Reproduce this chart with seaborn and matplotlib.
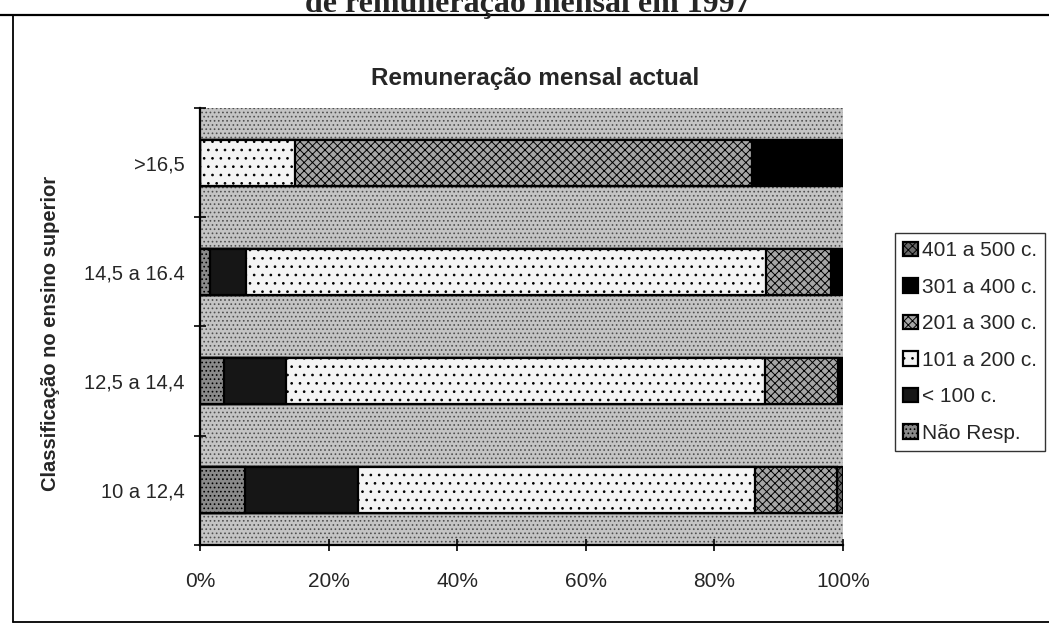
import numpy as np
import matplotlib
matplotlib.use("Agg")
import matplotlib.pyplot as plt
import seaborn as sns
from matplotlib.lines import Line2D
from matplotlib.patches import Rectangle

# =========================
# DATA (percent of respondents)
# =========================
categories = ["10 a 12,4", "12,5 a 14,4", "14,5 a 16.4", ">16,5"]
order = [">16,5", "14,5 a 16.4", "12,5 a 14,4", "10 a 12,4"]

series_names = ["Não Resp.", "< 100 c.", "101 a 200 c.", "201 a 300 c.",
                "301 a 400 c.", "401 a 500 c."]
nao_resp = [7.0, 3.8, 1.5, 0.0]
menos_100 = [17.6, 9.6, 5.7, 0.0]
de_101_200 = [61.7, 74.5, 80.8, 14.8]
de_201_300 = [12.7, 11.3, 10.2, 71.0]
de_301_400 = [0.0, 0.8, 1.8, 14.2]
de_401_500 = [1.0, 0.0, 0.0, 0.0]

x_ticks = [0, 20, 40, 60, 80, 100]
x_labels = ["0%", "20%", "40%", "60%", "80%", "100%"]

# =========================
# STYLE
# =========================
sns.set_theme(style="white")
plt.rcParams["font.family"] = ["Liberation Sans", "DejaVu Sans"]
plt.rcParams["hatch.linewidth"] = 0.7

fills = {
    "Não Resp.": ("#8a8a8a", "...."),
    "< 100 c.": ("#161616", None),
    "101 a 200 c.": ("#f4f4f4", ".."),
    "201 a 300 c.": ("#a6a6a6", "xxxx"),
    "301 a 400 c.": ("#000000", None),
    "401 a 500 c.": ("#6a6a6a", "xxxx"),
}

values = np.array([nao_resp, menos_100, de_101_200, de_201_300, de_301_400, de_401_500])
cum = np.cumsum(values, axis=0)

fig = plt.figure(figsize=(10.49, 6.26), dpi=100)
ax = fig.add_axes([0.1907, 0.1294, 0.6129, 0.6981])

# stippled plot background
ax.add_patch(Rectangle((0, 0), 1, 1, transform=ax.transAxes, facecolor="#c4c4c4",
                       edgecolor="#505050", hatch="....", linewidth=0, zorder=0))

# stacked bars: draw cumulative totals from the outermost segment inwards
for i in reversed(range(len(series_names))):
    name = series_names[i]
    color, hatch = fills[name]
    sns.barplot(x=cum[i], y=categories, order=order, orient="h", color=color,
                saturation=1, width=0.42, edgecolor="black", linewidth=1.6,
                hatch=hatch, errorbar=None, label=name, ax=ax, zorder=2)

ax.set_xlim(0, 100)
ax.set_ylim(3.5, -0.5)
ax.set_xticks(x_ticks)
ax.set_xticklabels(x_labels, fontsize=15)
ax.set_yticks(range(len(order)))
ax.set_yticklabels(order, fontsize=14.5)
ax.set_yticks([-0.5, 0.5, 1.5, 2.5, 3.5], minor=True)
ax.tick_params(axis="y", which="major", length=0, pad=11)
ax.tick_params(axis="y", which="minor", length=9, width=1.2, direction="inout", color="black", left=True)
ax.tick_params(axis="x", length=9, width=1.2, direction="inout", color="black", pad=15, bottom=True)
ax.set_xlabel("")
ax.set_ylabel("Classificação no ensino superior", fontsize=14.5, fontweight="bold")
ax.yaxis.set_label_coords(-0.218, 0.485)

for side in ["top", "right"]:
    ax.spines[side].set_visible(False)
for side in ["left", "bottom"]:
    ax.spines[side].set_color("black")
    ax.spines[side].set_linewidth(1.6)
    ax.spines[side].set_zorder(3)

leg = ax.legend(loc="center left", bbox_to_anchor=(0.853, 0.4537),
                bbox_transform=fig.transFigure, fontsize=15, frameon=True,
                fancybox=False, handlelength=0.7, handleheight=0.7,
                handletextpad=0.2, labelspacing=0.84, borderpad=0.4,
                borderaxespad=0)
leg.get_frame().set_edgecolor("black")
leg.get_frame().set_linewidth(1.0)

# titles
fig.text(528 / 1049, 1 - 12 / 626, "de remuneração mensal em 1997",
         family=["Liberation Serif", "DejaVu Serif"], fontweight="bold",
         fontsize=23, ha="center", va="baseline")
fig.text(535 / 1049, 1 - 78 / 626, "Remuneração mensal actual",
         fontsize=17.5, fontweight="bold", ha="center", va="center")

# chart frame lines
fig.add_artist(Line2D([0, 1], [1 - 15 / 626, 1 - 15 / 626], color="black", lw=1.6))
fig.add_artist(Line2D([13 / 1049, 13 / 1049], [1 - 15 / 626, 1 - 622 / 626], color="black", lw=1.3))
fig.add_artist(Line2D([13 / 1049, 1], [1 - 622 / 626, 1 - 622 / 626], color="black", lw=1.3))

fig.savefig("out.png", dpi=100)
